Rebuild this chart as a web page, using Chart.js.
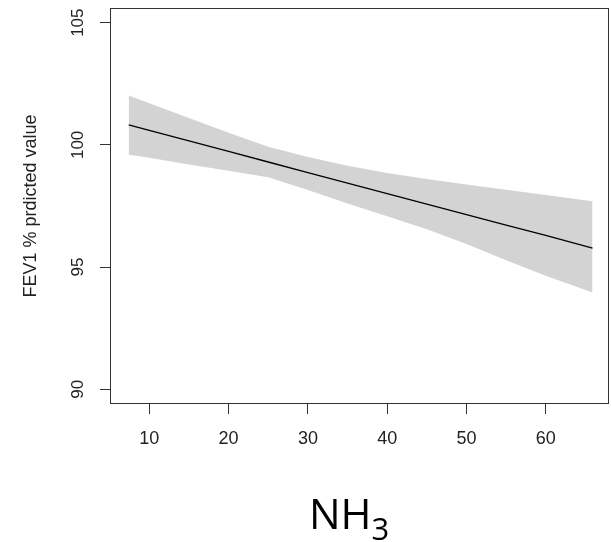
<!DOCTYPE html>
<html>
<head>
<meta charset="utf-8">
<script src="https://cdn.jsdelivr.net/npm/chart.js@4/dist/chart.umd.min.js"></script>
<style>
  html, body { margin: 0; padding: 0; background: #ffffff; }
  #wrap { position: relative; width: 611px; height: 542px; }
</style>
</head>
<body>
<div id="wrap"><canvas id="c" width="611" height="542"></canvas></div>
<script>
// ---- data ----
const nh3 = [7.4, 10, 15, 20, 25, 30, 35, 40, 45, 50, 55, 60, 65.9];
const fitFEV1 = [100.82, 100.59, 100.16, 99.73, 99.30, 98.87, 98.44, 98.01, 97.58, 97.15, 96.72, 96.30, 95.78];
const upperCI = [102.02, 101.70, 101.10, 100.50, 99.92, 99.50, 99.15, 98.85, 98.60, 98.38, 98.16, 97.95, 97.69];
const lowerCI = [99.60, 99.47, 99.20, 98.94, 98.68, 98.15, 97.60, 97.08, 96.55, 95.95, 95.28, 94.65, 93.96];
const xTickStep = 10;
const yTickStep = 5;
const xRange = [5.04, 67.98];
const yRange = [89.4, 105.6];
const yTitle = 'FEV1 % prdicted value';
const xTitleMain = 'NH';
const xTitleSub = '3';

const pts = (ys) => nh3.map((x, i) => ({ x: x, y: ys[i] }));

const boxPlugin = {
  id: 'boxAndLabels',
  afterDraw(chart) {
    const ctx = chart.ctx;
    const a = chart.chartArea;
    ctx.save();
    // plot frame
    ctx.strokeStyle = '#333333';
    ctx.lineWidth = 1;
    ctx.strokeRect(Math.round(a.left) + 0.5, Math.round(a.top) + 0.5,
                   Math.round(a.right - a.left) - 1, Math.round(a.bottom - a.top) - 1);
    // rotated y tick labels (R style, parallel to axis)
    const ys = chart.scales.y;
    ctx.fillStyle = '#222222';
    ctx.font = '17px "Liberation Sans", Arial, sans-serif';
    ctx.textAlign = 'center';
    ctx.textBaseline = 'middle';
    ys.ticks.forEach(t => {
      const py = ys.getPixelForValue(t.value);
      ctx.save();
      ctx.translate(ys.right - 32, py);
      ctx.rotate(-Math.PI / 2);
      ctx.fillText(String(t.value), 0, 0);
      ctx.restore();
    });
    // NH3 label below the chart
    ctx.fillStyle = '#000000';
    ctx.textAlign = 'left';
    ctx.textBaseline = 'alphabetic';
    ctx.font = '42px "Open Sans", sans-serif';
    const x0 = 309, base = 529;
    ctx.fillText(xTitleMain, x0, base);
    const w = ctx.measureText(xTitleMain).width;
    ctx.font = '31px "Open Sans", sans-serif';
    ctx.fillText(xTitleSub, x0 + w, base + 11);
    ctx.restore();
  }
};

new Chart(document.getElementById('c'), {
  type: 'line',
  data: {
    datasets: [
      {
        label: 'Upper 95% CI',
        data: pts(upperCI),
        fill: '+1',
        order: 2,
        backgroundColor: '#d3d3d3',
        borderColor: 'rgba(0,0,0,0)',
        borderWidth: 0,
        pointRadius: 0,
        tension: 0
      },
      {
        label: 'Lower 95% CI',
        data: pts(lowerCI),
        fill: false,
        order: 2,
        backgroundColor: '#d3d3d3',
        borderColor: 'rgba(0,0,0,0)',
        borderWidth: 0,
        pointRadius: 0,
        tension: 0
      },
      {
        label: 'Fitted',
        data: pts(fitFEV1),
        fill: false,
        order: 0,
        borderColor: '#000000',
        borderWidth: 1.3,
        pointRadius: 0,
        tension: 0
      }
    ]
  },
  options: {
    responsive: false,
    animation: false,
    devicePixelRatio: 1,
    layout: { padding: { top: 8, right: 2, left: 0, bottom: 0 } },
    plugins: {
      legend: { display: false },
      tooltip: { enabled: false },
      filler: { drawTime: 'beforeDatasetsDraw' }
    },
    scales: {
      x: {
        type: 'linear',
        min: xRange[0],
        max: xRange[1],
        afterFit(s) { s.height = 138; },
        border: { display: false },
        grid: { drawOnChartArea: false, drawTicks: true, tickLength: 10, tickColor: '#333333', tickWidth: 1 },
        ticks: {
          stepSize: xTickStep,
          includeBounds: false,
          autoSkip: false,
          maxRotation: 0,
          padding: 14,
          color: '#222222',
          font: { family: '"Liberation Sans", Arial, sans-serif', size: 18 }
        }
      },
      y: {
        type: 'linear',
        min: yRange[0],
        max: yRange[1],
        afterFit(s) { s.width = 110; },
        border: { display: false },
        grid: { drawOnChartArea: false, drawTicks: true, tickLength: 10, tickColor: '#333333', tickWidth: 1 },
        ticks: {
          stepSize: yTickStep,
          includeBounds: false,
          display: false
        },
        title: {
          display: true,
          text: yTitle,
          color: '#222222',
          padding: { top: 20, bottom: 0 },
          font: { family: '"Liberation Sans", Arial, sans-serif', size: 18 }
        }
      }
    }
  },
  plugins: [boxPlugin]
});
</script>
</body>
</html>
